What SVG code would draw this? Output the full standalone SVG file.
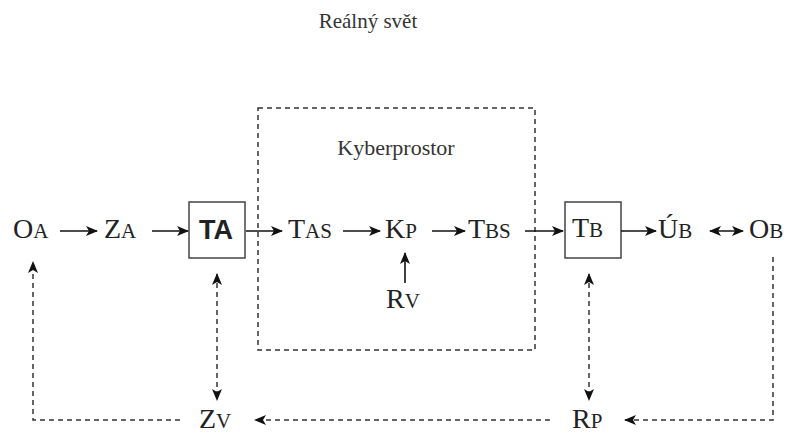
<svg xmlns="http://www.w3.org/2000/svg" width="790" height="433" viewBox="0 0 790 433">
<style>
.t{font-family:"Liberation Serif","Times New Roman",serif;font-size:28px;fill:#222}
.s{font-size:21px}
.cap{font-family:"Liberation Serif","Times New Roman",serif;fill:#333}
.box{fill:#fff;stroke:#444;stroke-width:1.5}
.solid{fill:none;stroke:#111;stroke-width:1.6}
.dash{fill:none;stroke:#333;stroke-width:1.5;stroke-dasharray:5,4}
</style>
<defs>
<marker id="ah" viewBox="0 0 12 10" refX="11" refY="5" markerWidth="12" markerHeight="10" markerUnits="userSpaceOnUse" orient="auto-start-reverse">
<path d="M0,0 L12,5 L0,10 L3,5 z" fill="#111"/>
</marker>
</defs>
<rect width="790" height="433" fill="#fff"/>
<g id="realny-svet"><text class="cap" x="368" y="28" text-anchor="middle" font-size="21">Reálný svět</text></g>
<g id="kyberprostor">
<rect x="258" y="108" width="277" height="242" class="dash"/>
<text class="cap" x="396" y="155" text-anchor="middle" font-size="22">Kyberprostor</text>
</g>
<g id="OA"><text class="t" x="13" y="238">O<tspan class="s">A</tspan></text></g>
<g id="ZA"><text class="t" x="104" y="238">Z<tspan class="s">A</tspan></text></g>
<g id="TA"><rect class="box" x="189" y="202" width="56" height="56"/><text x="216" y="239" text-anchor="middle" font-family="Liberation Sans, Arial, sans-serif" font-weight="bold" font-size="27" fill="#222">TA</text></g>
<g id="TAS"><text class="t" x="288" y="238">T<tspan class="s">AS</tspan></text></g>
<g id="KP"><text class="t" x="385" y="238">K<tspan class="s">P</tspan></text></g>
<g id="TBS"><text class="t" x="468" y="238">T<tspan class="s">BS</tspan></text></g>
<g id="TB"><rect class="box" x="565" y="202" width="56" height="56"/><text class="t" x="572" y="237">T<tspan class="s">B</tspan></text></g>
<g id="UB"><text class="t" x="658" y="238">Ú<tspan class="s">B</tspan></text></g>
<g id="OB"><text class="t" x="749" y="238">O<tspan class="s">B</tspan></text></g>
<g id="RV"><text class="t" x="386" y="308">R<tspan class="s">V</tspan></text></g>
<g id="ZV"><text class="t" x="199" y="428">Z<tspan class="s">V</tspan></text></g>
<g id="RP"><text class="t" x="572" y="428">R<tspan class="s">P</tspan></text></g>
<g id="connectors">
<path class="solid" d="M60,231 H97" marker-end="url(#ah)"/>
<path class="solid" d="M152,231 H188" marker-end="url(#ah)"/>
<path class="solid" d="M246,231 H282" marker-end="url(#ah)"/>
<path class="solid" d="M343,231 H380" marker-end="url(#ah)"/>
<path class="solid" d="M432,231 H465" marker-end="url(#ah)"/>
<path class="solid" d="M525,231 H563" marker-end="url(#ah)"/>
<path class="solid" d="M621,231 H656" marker-end="url(#ah)"/>
<path class="solid" d="M710,231 H743" marker-start="url(#ah)" marker-end="url(#ah)"/>
<path class="solid" d="M405,283 V253" marker-end="url(#ah)"/>
<path class="dash" d="M217,274 V400" marker-start="url(#ah)" marker-end="url(#ah)"/>
<path class="dash" d="M589,274 V400" marker-start="url(#ah)" marker-end="url(#ah)"/>
<path class="dash" d="M180,420 H33 V262" marker-end="url(#ah)"/>
<path class="dash" d="M550,420 H255" marker-end="url(#ah)"/>
<path class="dash" d="M773,257 V420 H625" marker-end="url(#ah)"/>
</g>
</svg>
